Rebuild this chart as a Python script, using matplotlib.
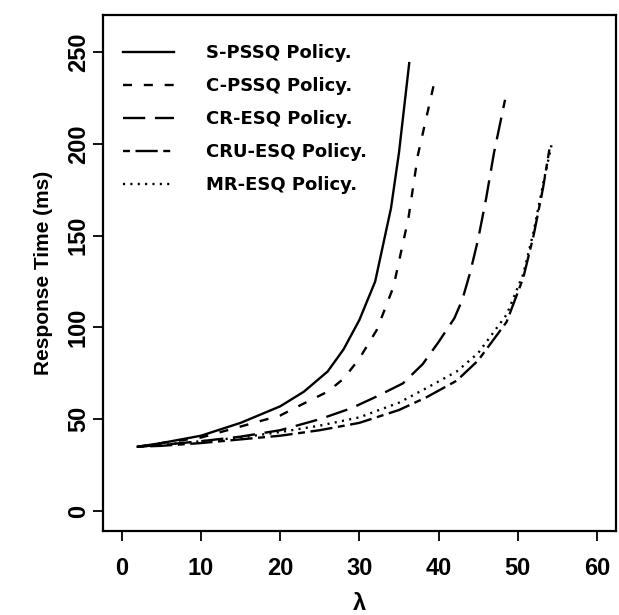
import matplotlib
matplotlib.use("Agg")
import matplotlib.pyplot as plt

plt.rcParams['font.family'] = ['Liberation Sans', 'DejaVu Sans']
plt.rcParams['font.weight'] = 'bold'
plt.rcParams['lines.scale_dashes'] = False

# ---- data ----
lam_s = [2, 5, 10, 15, 20, 23, 26, 28, 30, 32, 34, 35, 36.3]
rt_s = [35, 37, 41, 48, 57, 65, 76, 88, 104, 125, 165, 195, 244]

lam_c = [2, 5, 10, 15, 20, 22.5, 26, 28, 30, 32.2, 34.3, 36.2, 37.4, 39.6]
rt_c = [35, 37, 40, 46, 52, 57.5, 65, 72, 83, 98.6, 122, 159.5, 194, 236]

lam_cr = [2, 5, 10, 15, 20, 25, 29, 32, 35.5, 38, 40, 42, 43, 44, 45, 46, 47, 48.4]
rt_cr = [35, 36, 38, 40.5, 44, 50, 56, 62, 69.5, 80, 92, 105, 115, 130, 148, 170, 195, 224]

lam_cru = [2, 5, 10, 15, 20, 25, 30, 35, 38.5, 42.3, 45, 48.6, 50.7, 52, 53.2, 54.0]
rt_cru = [35, 35.5, 37, 39, 41, 44, 48, 55, 62, 71, 82, 103, 127, 150, 176, 197]

lam_mr = [2, 5, 10, 15, 20, 25, 30, 35, 38.5, 42.3, 45, 48.6, 50.7, 52, 53.2, 54.3]
rt_mr = [35, 36, 38, 40, 43, 46.5, 51, 59, 67, 76, 86, 107, 129, 152, 178, 200]

labels = ["S-PSSQ Policy.", "C-PSSQ Policy.", "CR-ESQ Policy.",
          "CRU-ESQ Policy.", "MR-ESQ Policy."]
x_ticks = [0, 10, 20, 30, 40, 50, 60]
y_ticks = [0, 50, 100, 150, 200, 250]

fig = plt.figure(figsize=(6.19, 6.15), dpi=100)
ax = fig.add_axes([0.166, 0.1366, 0.829, 0.839])

lw = 1.7
ax.plot(lam_s, rt_s, color='black', lw=lw, linestyle='-', label=labels[0])
ax.plot(lam_c, rt_c, color='black', lw=lw, linestyle=(0, (6.5, 8.5)), label=labels[1])
ax.plot(lam_cr, rt_cr, color='black', lw=lw, linestyle=(0, (16, 7)), label=labels[2])
ax.plot(lam_cru, rt_cru, color='black', lw=lw, linestyle=(0, (5, 4, 16, 4)), label=labels[3])
ax.plot(lam_mr, rt_mr, color='black', lw=lw, linestyle=(0, (1.5, 3.8)), label=labels[4])

ax.set_xlim(-2.4, 62.4)
ax.set_ylim(-10.9, 270.2)
ax.set_xticks(x_ticks)
ax.set_yticks(y_ticks)
ax.set_xticklabels([str(v) for v in x_ticks], fontsize=17, fontweight='bold')
ax.set_yticklabels([str(v) for v in y_ticks], fontsize=17, fontweight='bold',
                   rotation=90, va='center')
ax.tick_params(axis='x', direction='out', length=7.2, width=1.3, pad=11.5)
ax.tick_params(axis='y', direction='out', length=7.2, width=1.3, pad=2)
for sp in ax.spines.values():
    sp.set_linewidth(1.6)

ax.set_xlabel("λ", fontsize=17, fontweight='bold', labelpad=9)
ax.set_ylabel("Response Time (ms)", fontsize=15, fontweight='bold', labelpad=10)

leg = ax.legend(loc='upper left', bbox_to_anchor=(123 / 619, 1 - 44 / 615),
                bbox_transform=fig.transFigure, frameon=False, borderpad=0,
                borderaxespad=0, handlelength=2.83, handletextpad=1.77,
                labelspacing=0.83,
                prop={'family': 'DejaVu Sans', 'weight': 'bold', 'size': 13})

fig.savefig("out.png", dpi=100)
